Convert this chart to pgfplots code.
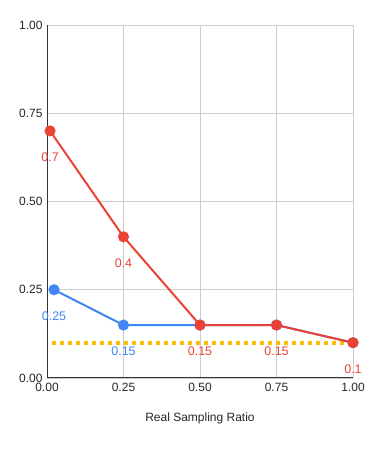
\documentclass[border=0pt]{standalone}
\usepackage{pgfplots}
\pgfplotsset{compat=1.18}
\usepackage{fontspec}
\setmainfont{Liberation Sans}
\definecolor{gred}{HTML}{EA4335}
\definecolor{gblue}{HTML}{4285F4}
\definecolor{gyel}{HTML}{FBBC04}
\begin{document}
\begin{tikzpicture}
\path[use as bounding box] (0pt,0pt) rectangle (372pt,449pt);
\begin{axis}[
  at={(47pt,71pt)}, anchor=south west,
  scale only axis, width=306pt, height=353pt,
  xmin=0, xmax=1, ymin=0, ymax=1,
  xtick={0,0.25,0.5,0.75,1}, ytick={0,0.25,0.5,0.75,1},
  xticklabels={0.00,0.25,0.50,0.75,1.00},
  yticklabels={0.00,0.25,0.50,0.75,1.00},
  axis x line*=bottom, axis y line*=left,
  axis line style={-, draw=black!80, line width=1pt},
  grid=major, grid style={draw=black!20, line width=0.8pt},
  tick style={draw=none},
  /pgf/number format/assume math mode=true,
  ticklabel style={font=\fontsize{12}{14}\selectfont, text=black!85},
  xticklabel style={yshift=-2pt},
  yticklabel style={xshift=-1pt},
  xlabel={Real Sampling Ratio},
  xlabel style={font=\fontsize{12}{14}\selectfont, text=black!85, yshift=-14pt},
  nodes near coords, point meta=explicit symbolic,
  every node near coord/.append style={font=\fontsize{12.5}{14}\selectfont, anchor=center, yshift=-26pt},
]
\addplot[gyel, line width=4pt, dash pattern=on 4pt off 4pt, nodes near coords=\empty] coordinates {(0.016,0.1) (1,0.1)};
\addplot[gblue, line width=2pt, mark=*, mark size=4.5pt, every node near coord/.append style={text=gblue}] coordinates {
 (0.023,0.25)[0.25] (0.25,0.15)[0.15] (0.5,0.15)[] (0.75,0.15)[] (1,0.1)[]};
\addplot[gred, line width=2pt, mark=*, mark size=4.5pt, every node near coord/.append style={text=gred}] coordinates {
 (0.01,0.7)[0.7] (0.25,0.4)[0.4] (0.5,0.15)[0.15] (0.75,0.15)[0.15] (1,0.1)[0.1]};
\end{axis}
\end{tikzpicture}
\end{document}
